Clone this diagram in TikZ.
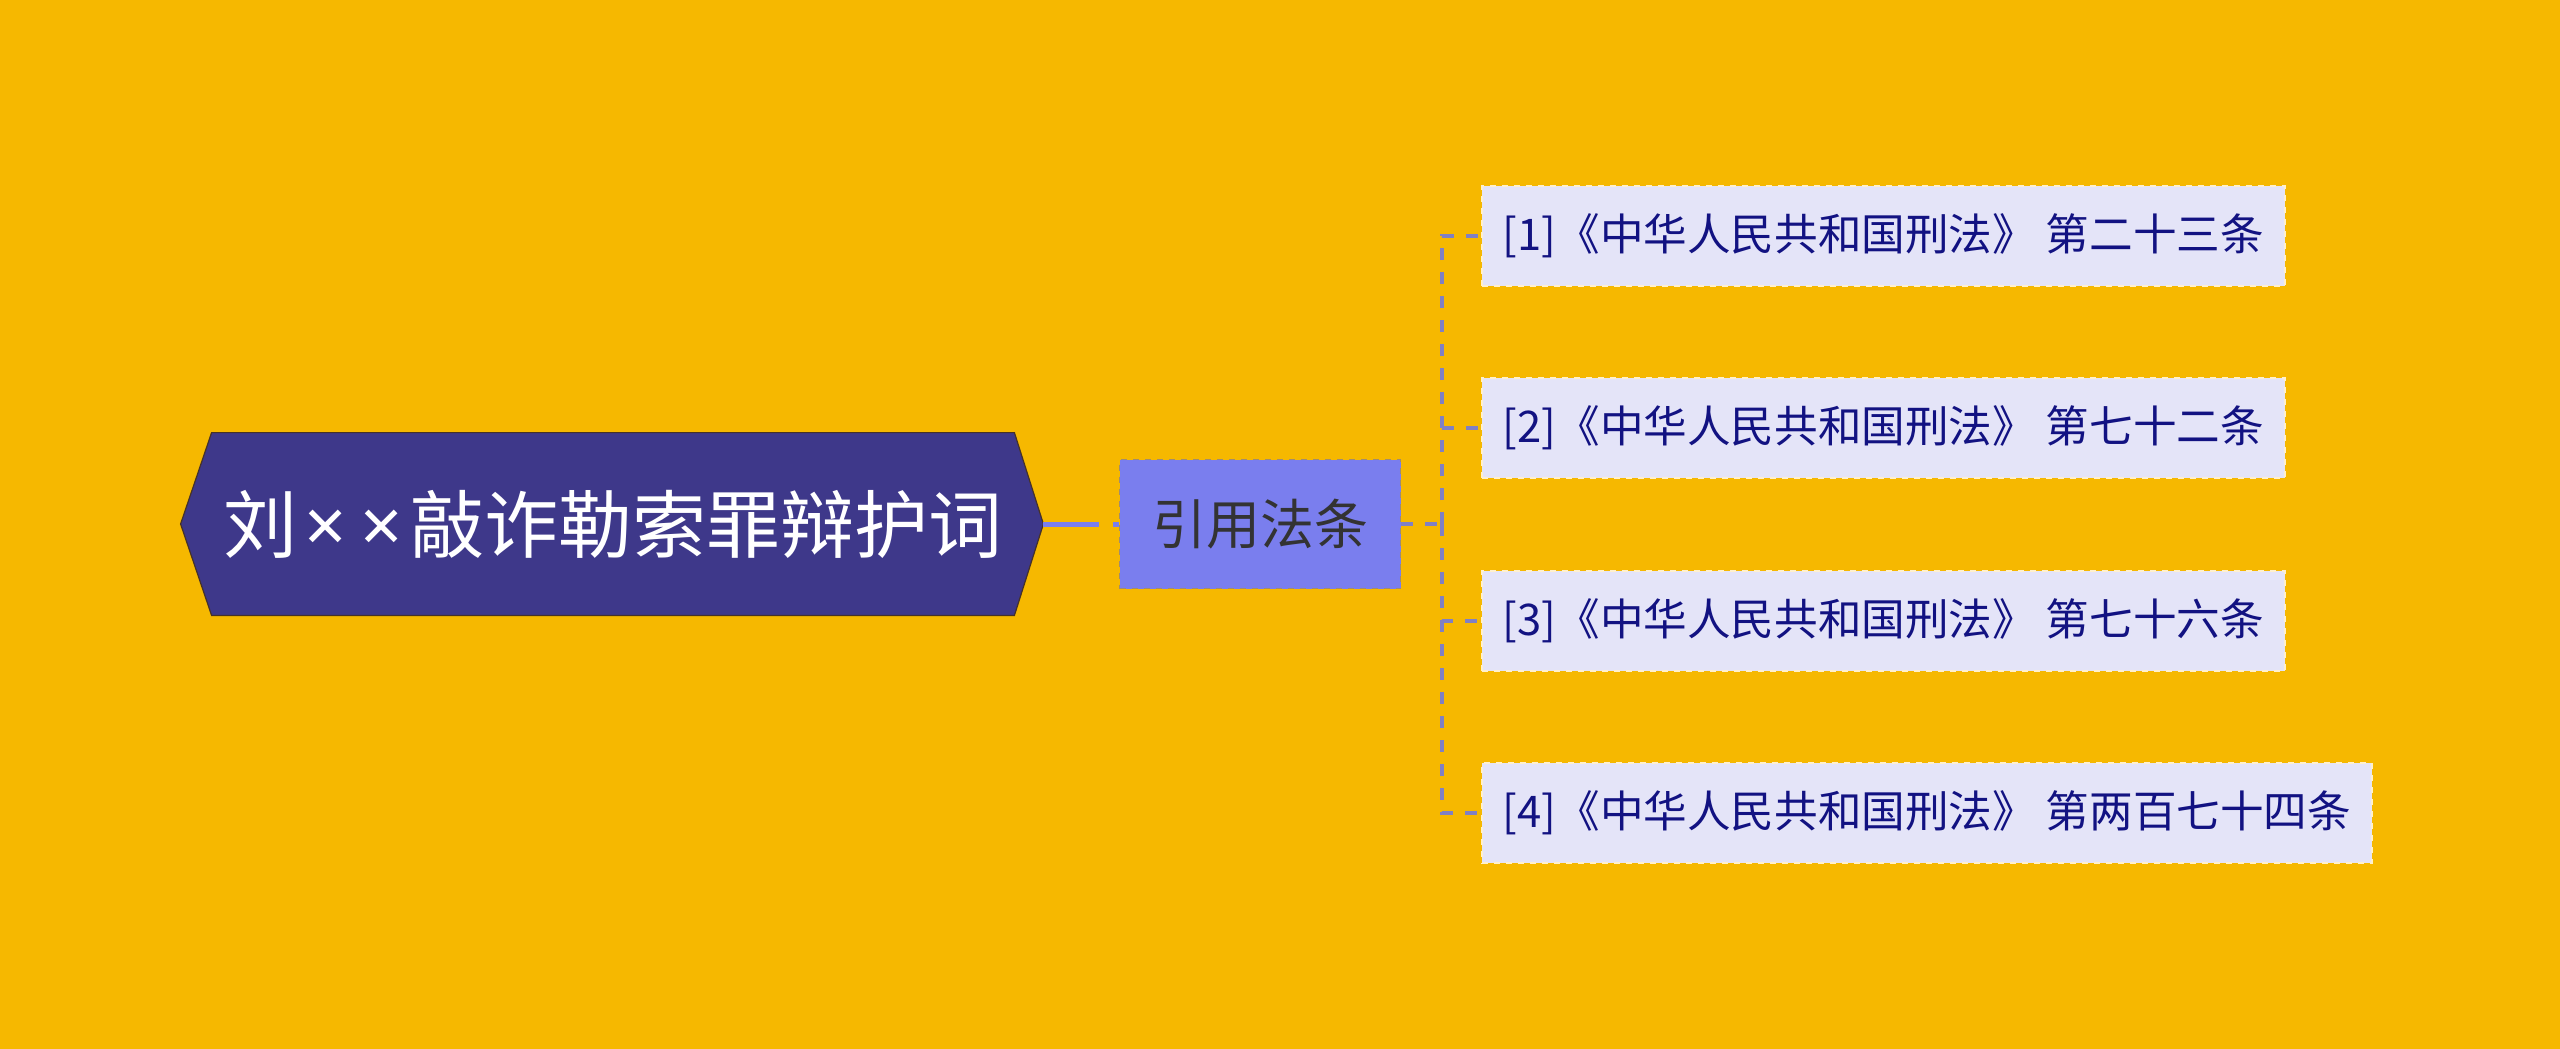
\documentclass[tikz,border=0pt]{standalone}
\usepackage{fontspec}
\newfontfamily\cjk{Noto Sans CJK SC}
\newfontfamily\latin{Noto Sans}
\usetikzlibrary{calc,backgrounds}
\definecolor{fond}{RGB}{246,184,0}
\definecolor{remplracine}{RGB}{62,56,138}
\definecolor{bordracine}{RGB}{70,50,40}
\definecolor{remplmid}{RGB}{122,126,238}
\definecolor{bordmid}{RGB}{160,140,110}
\definecolor{remplfeuille}{RGB}{228,228,248}
\definecolor{bordfeuille}{RGB}{255,240,205}
\definecolor{textefeuille}{RGB}{18,18,130}
\definecolor{lienc}{RGB}{128,128,196}
\newcommand{\fois}{{\latin\kern3.5pt×\kern3.5pt}}
\tikzset{
    racine/.style={minimum width=401pt,minimum height=91pt,inner sep=0pt,
      text=white,font=\cjk\fontsize{37}{42}\selectfont},
    rubrique/.style={draw=bordmid,dashed,line width=0.8pt,fill=remplmid,
      minimum width=140.5pt,minimum height=64.5pt,inner sep=0pt,
      text={rgb,255:red,51;green,51;blue,51},font=\cjk\fontsize{27}{30}\selectfont},
    feuille/.style={anchor=west,draw=bordfeuille,dashed,line width=0.8pt,fill=remplfeuille,
      minimum height=50pt,inner xsep=10.5pt,inner ysep=0pt,
      text=textefeuille,font=\cjk\fontsize{21.8}{26}\selectfont},
    lien/.style={draw=lienc,line width=2pt,dash pattern=on 6pt off 6pt},
    lienracine/.style={draw=remplmid,line width=2.5pt,dash pattern=on 28pt off 7pt},
  }
\begin{document}
\begin{tikzpicture}[x=0.5pt,y=-0.5pt]
  % fond et cadre
  \begin{scope}[on background layer]
    \fill[fond] (0,0) rectangle (2560,1049);
  \end{scope}
  \useasboundingbox (0,0) rectangle (2560,1049);
  % racine
  \node[racine] (R) at (613,524) {刘\fois\fois 敲诈勒索罪辩护词};
  \coordinate (Rg) at ($(R.west)+(-31,0)$);
  \coordinate (Rd) at ($(R.east)+(29,0)$);
  \begin{scope}[on background layer]
    \filldraw[fill=remplracine,draw=bordracine,line width=0.6pt]
      (Rg) -- (R.north west) -- (R.north east) -- (Rd) -- (R.south east) -- (R.south west) -- cycle;
  \end{scope}
  % rubrique
  \node[rubrique] (M) at (1260,524) {引用法条};
  \draw[lienracine] (Rd) -- (M.west);
  % feuilles
  \node[feuille] (L1) at (1481,236) {[1]《中华人民共和国刑法》 第二十三条};
  \node[feuille] (L2) at (1481,428) {[2]《中华人民共和国刑法》 第七十二条};
  \node[feuille] (L3) at (1481,621) {[3]《中华人民共和国刑法》 第七十六条};
  \node[feuille] (L4) at (1481,813) {[4]《中华人民共和国刑法》 第两百七十四条};
  \coordinate (F) at (1442,524);
  \draw[lien] (M.east) -- (F);
  \foreach \i in {1,...,4}
    \draw[lien] (F) |- (L\i.west);
\end{tikzpicture}
\end{document}
